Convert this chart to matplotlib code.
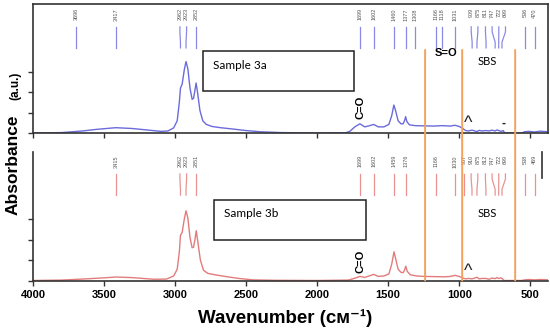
import matplotlib.pyplot as plt
from matplotlib.patches import Rectangle, ConnectionPatch

# spectrum of sample 3a (wavenumber, absorbance in tick units)
wn_a = [4000, 3800, 3650, 3550, 3417, 3300, 3200, 3100, 3050, 3010, 2985, 2970,
        2962, 2950, 2935, 2923, 2910, 2895, 2880, 2870, 2860, 2852, 2842, 2825,
        2805, 2780, 2740, 2680, 2600, 2500, 2400, 2250, 2000, 1800, 1770, 1735,
        1699, 1665, 1635, 1602, 1570, 1530, 1495, 1475, 1460, 1448, 1430, 1410,
        1395, 1385, 1377, 1368, 1350, 1310, 1250, 1180, 1120, 1060, 1031, 1000,
        975, 955, 935, 910, 890, 875, 860, 840, 811, 790, 770, 747, 735, 722,
        705, 690, 680, 560, 540, 510, 470, 430, 375]
ab_a = [0.0, 0.02, 0.1, 0.18, 0.26, 0.22, 0.15, 0.08, 0.1, 0.25, 0.6, 1.5,
        2.2, 2.4, 3.1, 3.5, 3.15, 2.2, 1.65, 1.7, 2.1, 2.45, 2.0, 1.1,
        0.6, 0.42, 0.32, 0.26, 0.2, 0.12, 0.06, 0.02, 0.0, 0.01, 0.08, 0.3,
        0.45, 0.3, 0.35, 0.42, 0.3, 0.3, 0.42, 0.85, 1.37, 1.1, 0.6, 0.45,
        0.45, 0.6, 0.8, 0.55, 0.4, 0.36, 0.35, 0.34, 0.36, 0.34, 0.38, 0.32,
        0.22, 0.12, 0.1, 0.14, 0.1, 0.07, 0.13, 0.1, 0.12, 0.1, 0.14, 0.1, 0.15, 0.12,
        0.08, 0.12, 0.0, 0.0, 0.06, 0.08, 0.05, 0.09, 0.06]

# spectrum of sample 3b
wn_b = [4000, 3800, 3650, 3500, 3415, 3300, 3150, 3060, 3010, 2985, 2970,
        2962, 2950, 2935, 2923, 2910, 2895, 2880, 2870, 2860, 2851, 2840, 2822,
        2800, 2770, 2720, 2650, 2550, 2450, 2300, 2000, 1780, 1740, 1699, 1665,
        1635, 1602, 1570, 1530, 1495, 1475, 1459, 1447, 1430, 1410, 1395, 1385,
        1376, 1366, 1345, 1300, 1250, 1180, 1100, 1060, 1030, 1000, 975, 955,
        935, 910, 890, 875, 860, 840, 812, 790, 770, 747, 735, 722, 705, 695,
        685, 560, 540, 510, 470, 430, 375]
ab_b = [0.0, 0.02, 0.07, 0.13, 0.17, 0.14, 0.06, 0.07, 0.22, 0.55, 1.4,
        2.2, 2.35, 3.0, 3.4, 3.05, 2.1, 1.6, 1.62, 2.0, 2.43, 1.9, 1.0,
        0.5, 0.35, 0.28, 0.2, 0.1, 0.03, 0.01, 0.0, 0.02, 0.1, 0.2, 0.15,
        0.22, 0.3, 0.2, 0.22, 0.32, 0.8, 1.4, 1.05, 0.55, 0.4, 0.38, 0.5,
        0.7, 0.45, 0.28, 0.22, 0.2, 0.19, 0.18, 0.2, 0.25, 0.2, 0.12, 0.08,
        0.1, 0.08, 0.12, 0.16, 0.08, 0.1, 0.1, 0.06, 0.12, 0.09, 0.14, 0.1, 0.13, 0.08,
        0.0, 0.0, 0.03, 0.05, 0.03, 0.05, 0.03]

peaks_a = [3696, 3417, 2962, 2923, 2852, 1699, 1602, 1460, 1377, 1308, 1166,
           1118, 1031, 909, 875, 811, 747, 722, 699, 536, 470]
peaks_b = [3415, 2962, 2923, 2851, 1699, 1602, 1459, 1376, 1166, 1030, 967,
           910, 875, 812, 747, 722, 699, 538, 469]

region_lines = [1240, 979, 606]
x_ticks = [4000, 3500, 3000, 2500, 2000, 1500, 1000, 500]

blue = '#6b6bdc'
blue_m = '#8a8ae6'
red = '#e27c7c'
red_m = '#e89393'
orange = '#f2a25c'
spine_c = '#333333'


def spread(vals, gap):
    pos = sorted(vals, reverse=True)
    for _ in range(500):
        moved = False
        for i in range(len(pos) - 1):
            d = pos[i] - pos[i + 1]
            if d < gap - 0.01:
                s = (gap - d) / 2
                pos[i] += s
                pos[i + 1] -= s
                moved = True
        if not moved:
            break
    return pos


def peak_marks(ax, peaks, col):
    labs = spread(peaks, 47)
    for p, l in zip(sorted(peaks, reverse=True), labs):
        ax.plot([l, l, p, p], [5.2, 4.95, 4.45, 4.17], color=col, lw=0.9)
        ax.text(l, 6.12, str(p), rotation=90, ha='center', va='top',
                fontsize=4, color='#555555', family='Liberation Sans')


fig = plt.figure(figsize=(5.5, 3.31), dpi=100)
ax1 = fig.add_axes([33 / 550, 1 - 133 / 331, 515 / 550, 129 / 331])
ax2 = fig.add_axes([33 / 550, 1 - 280.5 / 331, 515 / 550, 128.5 / 331])

ax1.plot(wn_a, ab_a, color=blue, lw=1.0)
ax2.plot(wn_b, ab_b, color=red, lw=1.0)
peak_marks(ax1, peaks_a, blue_m)
peak_marks(ax2, peaks_b, red_m)

for ax, top in [(ax1, 6.32), (ax2, 6.27)]:
    ax.set_xlim(4000, 375)
    ax.set_ylim(0, top)
    ax.set_xticks(x_ticks)
    ax.set_yticks([0, 1, 2, 3])
    ax.set_yticklabels([])
    ax.tick_params(direction='out', length=3.5, width=1, color=spine_c)
    for s in ax.spines.values():
        s.set_linewidth(1.2)
        s.set_color(spine_c)

ax1.set_xticklabels([])
ax2.set_xticklabels([str(t) for t in x_ticks], fontsize=8, fontweight='bold',
                    family='Liberation Sans')
ax2.tick_params(axis='x', pad=3)
ax2.spines['top'].set_visible(False)
ax2.spines['right'].set_position(('data', 418))
ax2.spines['right'].set_bounds(5.0, 6.27)

# region boundaries spanning both panels
for x in region_lines:
    con = ConnectionPatch(xyA=(x, 4.07), coordsA=ax1.transData,
                          xyB=(x, 0), coordsB=ax2.transData,
                          color=orange, lw=1.4)
    fig.add_artist(con)

# sample boxes
ax1.add_patch(Rectangle((2806, 2.06), 1739 - 2806, 1.96, fill=False,
                        ec='#222222', lw=1.1))
ax1.text(2736, 3.33, 'Sample 3a', fontsize=8.5, family='Lato', va='center')
ax2.add_patch(Rectangle((2729, 1.98), 1655 - 2729, 1.95, fill=False,
                        ec='#222222', lw=1.1))
ax2.text(2659, 3.29, 'Sample 3b', fontsize=8.5, family='Lato', va='center')

ax1.text(1093, 3.92, 'S=O', fontsize=8, fontweight='bold',
         family='Liberation Sans', ha='center', va='center')
ax1.text(805, 3.48, 'SBS', fontsize=8, family='Lato', ha='center', va='center')
ax2.text(805, 3.29, 'SBS', fontsize=8, family='Lato', ha='center', va='center')
ax1.text(1697, 1.27, 'C=O', fontsize=8, fontweight='bold', rotation=90,
         family='Liberation Sans', ha='center', va='center')
ax2.text(1697, 0.95, 'C=O', fontsize=8, fontweight='bold', rotation=90,
         family='Liberation Sans', ha='center', va='center')

# small marks near 930 and 690
ax1.text(935, 0.05, '^', fontsize=13, ha='center', va='bottom', color='#222222',
         family='Liberation Sans')
ax2.text(937, 0.02, '^', fontsize=13, ha='center', va='bottom', color='#222222',
         family='Liberation Sans')
ax1.text(690, 0.2, '-', fontsize=7, fontweight='bold', ha='center',
         va='bottom', color='#222222')

fig.text(18 / 550, 1 - 165 / 331, 'Absorbance', rotation=90,
         rotation_mode='anchor', ha='center', va='baseline', fontsize=12.5,
         fontweight='bold', family='Liberation Sans')
fig.text(18 / 550, 1 - 86 / 331, '(a.u.)', rotation=90,
         rotation_mode='anchor', ha='center', va='baseline', fontsize=8.5,
         fontweight='bold', family='Liberation Sans')
fig.text(285.5 / 550, 1 - 323 / 331, 'Wavenumber (cм⁻¹)', ha='center',
         va='baseline', fontsize=13.5, fontweight='bold',
         family=['Liberation Sans', 'DejaVu Sans'])

fig.savefig('out.png', dpi=100)
